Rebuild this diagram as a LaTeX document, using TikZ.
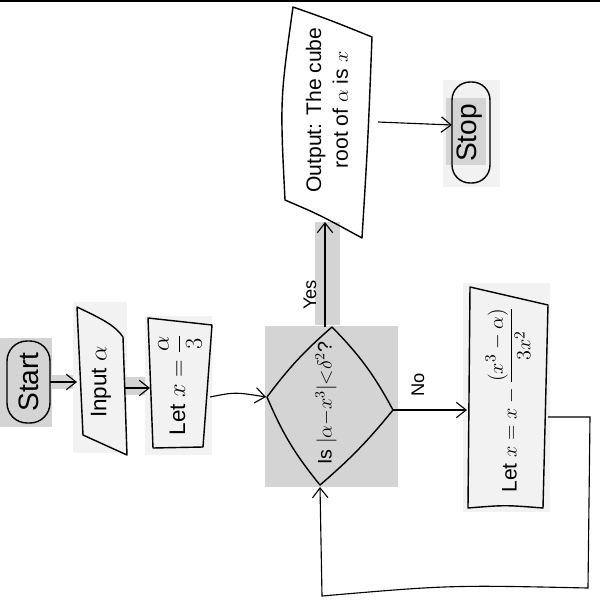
\documentclass[tikz,border=0pt]{standalone}
\usepackage{fontspec}
\setmainfont{Liberation Sans}
\usetikzlibrary{arrows.meta}
\begin{document}
\begin{tikzpicture}[x=0.025cm,y=-0.025cm,
  shp/.style={draw=black, line width=1pt, line join=round},
  hlbox/.style={fill=black!17},
  lightbox/.style={fill=black!5},
  conn/.style={draw=black, line width=0.8pt, -{Straight Barb[length=7pt,width=11pt,line width=0.8pt]}},
  txt/.style={rotate=90, inner sep=0pt, font=\fontsize{16}{20}\selectfont},
  bigtxt/.style={rotate=90, inner sep=0pt, font=\fontsize{20}{24}\selectfont},
  lbl/.style={rotate=90, inner sep=0pt, font=\fontsize{13}{15}\selectfont}]
\useasboundingbox (0,0) rectangle (600,600);
% top rule
\fill[black] (0,0) rectangle (600,2);
% highlight boxes
\fill[hlbox] (0,338) rectangle (52,427);
\fill[hlbox] (50,375) rectangle (75,389);
\fill[lightbox] (73,302) rectangle (127,453);
\fill[hlbox] (125,377) rectangle (153,395);
\fill[lightbox] (145,316) rectangle (212,455);
\fill[hlbox] (265,326) rectangle (398,487);
\fill[hlbox] (315,222) rectangle (340,325);
\fill[lightbox] (463,283) rectangle (550,512);
\fill[lightbox] (443,80) rectangle (500,187);
\fill[hlbox] (446,98) rectangle (486,165);

% Start
\draw[shp, rounded corners=0.5cm] (7,341) rectangle (50,423);
\node[bigtxt] (tstart) at (29,382) {Start};
\coordinate (startR) at (50,382);

% Input
\draw[shp] (77,307) .. controls (100,318) and (115,325) .. (123,337) -- (127,455) -- (83,435) -- cycle;
\node[txt] (tinput) at (101,382) {Input $\alpha$};
\coordinate (inL) at (77,382);
\coordinate (inR) at (125,388);

% Let x = a/3
\draw[shp] (148,318) -- (212,325) -- (203,447) -- (153,448) -- cycle;
\node[txt] (tlet) at (180,385) {Let $x=\displaystyle\frac{\alpha}{3}$};
\coordinate (letL) at (150,388);
\coordinate (letR) at (210,397);

% Diamond
\draw[shp] (332,327) to[bend left=8] (393,410) to[bend left=5] (320,485) to[bend left=8] (267,397) to[bend left=6] cycle;
\node[rotate=90, inner sep=0pt, font=\fontsize{14}{17}\selectfont] (tdec) at (326,403) {Is $|\alpha{-}x^3|{<}\delta^2$?};
\coordinate (dL) at (266,397);
\coordinate (dT) at (325,327);
\coordinate (dR) at (393,410);
\coordinate (dB) at (320,487);

% Output
\draw[shp] (293,7) .. controls (330,20) .. (372,37) .. controls (368,140) .. (362,238) .. controls (320,215) .. (285,200) .. controls (280,100) .. cycle;
\node[rotate=90, inner sep=0pt, align=center, font=\fontsize{15}{19}\selectfont] (tout) at (327,110) {Output: The cube\\root of $\alpha$ is $x$};
\coordinate (outB) at (325,222);
\coordinate (outR) at (378,122);

% Stop
\draw[shp, rounded corners=0.45cm] (452,82) rectangle (490,183);
\node[bigtxt] (tstop) at (470,133) {Stop};
\coordinate (stopL) at (452,125);

% Let x = x - ...
\draw[shp] (470,287) -- (548,305) -- (543,508) .. controls (505,505) .. (468,508) -- cycle;
\node[rotate=90, inner sep=0pt, font=\fontsize{15}{18}\selectfont] (tlet2) at (508,400) {Let $x=x-\displaystyle\frac{(x^3-\alpha)}{3x^2}$};
\coordinate (l2L) at (467,410);
\coordinate (l2R) at (548,417);

% connectors
\draw[conn] (startR) -- (inL);
\draw[conn] (inR) -- (letL);
\draw[conn] (letR) .. controls (235,392) .. (dL);
\draw[conn] (dT) -- (outB);
\node[lbl] (yes) at (310,295) {Yes};
\draw[conn] (outR) -- (stopL);
\draw[conn] (dR) -- (l2L);
\node[lbl] (no) at (418,385) {No};
\coordinate (c1) at (590,417);
\coordinate (c2) at (588,588);
\coordinate (c3) at (322,596);
\draw[conn] (l2R) -- (c1) -- (c2) .. controls (450,585) .. (c3) -- (dB);
\end{tikzpicture}
\end{document}
